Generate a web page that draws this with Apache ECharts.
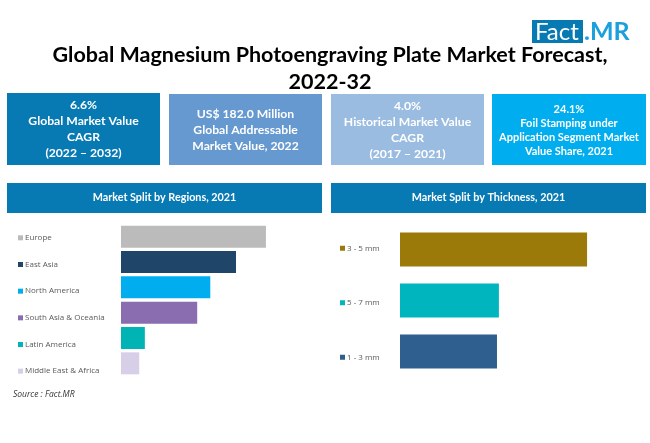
<!DOCTYPE html>
<html>
<head>
<meta charset="utf-8">
<style>
html, body { margin: 0; padding: 0; background: #fff; }
#main { width: 650px; height: 443px; }
</style>
<script src="https://cdn.jsdelivr.net/npm/echarts@6/dist/echarts.min.js"></script>
</head>
<body>
<div id="main"></div>
<script>
// data (shares in %)
var regionNames = ['Europe', 'East Asia', 'North America', 'South Asia & Oceania', 'Latin America', 'Middle East & Africa'];
var regionValues = [31.0, 24.6, 19.1, 16.3, 5.1, 3.9];
var regionColors = ['#bbbbbb', '#1f4568', '#00aeef', '#8a6db1', '#00b3b5', '#d6cfe7'];

var thicknessNames = ['3 - 5 mm', '5 - 7 mm', '1 - 3 mm'];
var thicknessValues = [48.8, 25.8, 25.3];
var thicknessColors = ['#9c7a0a', '#00b5bd', '#2e5f8e'];

var titleText = 'Global Magnesium Photoengraving Plate Market Forecast,\n2022-32';
var kpiTexts = [
    '6.6%\nGlobal Market Value\nCAGR\n(2022 – 2032)',
    'US$ 182.0 Million\nGlobal Addressable\nMarket Value, 2022',
    '4.0%\nHistorical Market Value\nCAGR\n(2017 – 2021)',
    '24.1%\nFoil Stamping under\nApplication Segment Market\nValue Share, 2021'
];
var panelTitles = ['Market Split by Regions, 2021', 'Market Split by Thickness, 2021'];
var sourceText = 'Source : Fact.MR';

var FONT = 'Lato, "Open Sans", sans-serif';

// little square in front of each category label
function squareStyles(colors) {
    var rich = { t: { color: '#595959', fontSize: 8, fontFamily: '"Open Sans", sans-serif', padding: [0, 0, 0, 2] } };
    colors.forEach(function (c, i) {
        rich['s' + i] = { backgroundColor: c, width: 5, height: 5 };
    });
    return rich;
}

function squareLabel(names) {
    return function (value) {
        return '{s' + names.indexOf(value) + '|}{t|' + value + '}';
    };
}

// ==============================================================
// boxes and headings
// ==============================================================
var kpiBoxes = [
    { x: 7, y: 93, w: 153, h: 72, fill: '#0779b3', size: 12.2, lh: 16, dy: 0 },
    { x: 169, y: 94, w: 153, h: 71, fill: '#6699cf', size: 12.2, lh: 16, dy: 1 },
    { x: 331, y: 94, w: 153, h: 71, fill: '#9abce0', size: 12.2, lh: 16, dy: 1 },
    { x: 492, y: 94, w: 154, h: 71, fill: '#00aeef', size: 11, lh: 14, dy: 1 }
];
var headerBoxes = [
    { x: 7, y: 183, w: 315, h: 30 },
    { x: 331, y: 183, w: 315, h: 30 }
];

var graphics = [];

kpiBoxes.forEach(function (b, i) {
    graphics.push({
        type: 'rect',
        shape: { x: b.x, y: b.y, width: b.w, height: b.h },
        style: { fill: b.fill }
    });
    graphics.push({
        type: 'text',
        style: {
            x: b.x + b.w / 2, y: b.y + b.h / 2 + b.dy,
            text: kpiTexts[i], fill: '#fff', align: 'center', verticalAlign: 'middle',
            font: 'bold ' + b.size + 'px ' + FONT, lineHeight: b.lh
        }
    });
});

headerBoxes.forEach(function (b, i) {
    graphics.push({
        type: 'rect',
        shape: { x: b.x, y: b.y, width: b.w, height: b.h },
        style: { fill: '#0779b3' }
    });
    graphics.push({
        type: 'text',
        style: {
            x: b.x + b.w / 2, y: b.y + b.h / 2,
            text: panelTitles[i], fill: '#fff', align: 'center', verticalAlign: 'middle',
            font: 'bold 10.8px ' + FONT
        }
    });
});

// logo
graphics.push({
    type: 'rect',
    shape: { x: 532, y: 20, width: 51, height: 23 },
    style: { fill: '#0779b3' }
});
graphics.push({
    type: 'text',
    style: { x: 535, y: 32, text: 'Fact', fill: '#fff', verticalAlign: 'middle', font: '24px ' + FONT }
});
graphics.push({
    type: 'text',
    style: { x: 584, y: 32, text: '.MR', fill: '#1aa0dc', verticalAlign: 'middle', font: 'bold 25px ' + FONT }
});

// main title
graphics.push({
    type: 'text',
    style: {
        x: 330, y: 69, text: titleText, fill: '#000', align: 'center', verticalAlign: 'middle',
        font: 'bold 21.5px ' + FONT, lineHeight: 27
    }
});

// source note
graphics.push({
    type: 'text',
    style: { x: 13, y: 395, text: sourceText, fill: '#333', verticalAlign: 'middle', font: 'italic 8.5px "Open Sans", sans-serif' }
});

// ==============================================================
// bar charts
// ==============================================================
var dom = document.getElementById('main');
var chart = echarts.init(dom);

// the labels sit on a wider spacing than the bars, so they get their own grids
var option = {
    animation: false,
    backgroundColor: '#fff',
    graphic: graphics,
    grid: [
        { left: 121, top: 224, width: 187, height: 152 },
        { left: 400, top: 224, width: 230, height: 153 },
        { left: 121, top: 224.5, width: 187, height: 160 },
        { left: 400, top: 221, width: 230, height: 163.5 }
    ],
    xAxis: [
        { gridIndex: 0, type: 'value', min: 0, max: 40, show: false },
        { gridIndex: 1, type: 'value', min: 0, max: 60, show: false },
        { gridIndex: 2, type: 'value', min: 0, max: 40, show: false },
        { gridIndex: 3, type: 'value', min: 0, max: 60, show: false }
    ],
    yAxis: [
        {
            gridIndex: 0, type: 'category', inverse: true, data: regionNames,
            axisLine: { show: false }, axisTick: { show: false }, axisLabel: { show: false }
        },
        {
            gridIndex: 1, type: 'category', inverse: true, data: thicknessNames,
            axisLine: { show: false }, axisTick: { show: false }, axisLabel: { show: false }
        },
        {
            gridIndex: 2, type: 'category', inverse: true, data: regionNames,
            axisLine: { show: false }, axisTick: { show: false },
            axisLabel: { align: 'left', margin: 103, formatter: squareLabel(regionNames), rich: squareStyles(regionColors) }
        },
        {
            gridIndex: 3, type: 'category', inverse: true, data: thicknessNames,
            axisLine: { show: false }, axisTick: { show: false },
            axisLabel: { align: 'left', margin: 60, formatter: squareLabel(thicknessNames), rich: squareStyles(thicknessColors) }
        }
    ],
    series: [
        {
            type: 'bar', xAxisIndex: 0, yAxisIndex: 0, data: regionValues,
            colorBy: 'data', color: regionColors, barWidth: 22, silent: true
        },
        {
            type: 'bar', xAxisIndex: 1, yAxisIndex: 1, data: thicknessValues,
            colorBy: 'data', color: thicknessColors, barWidth: 34, silent: true
        }
    ]
};

chart.setOption(option);
</script>
</body>
</html>
